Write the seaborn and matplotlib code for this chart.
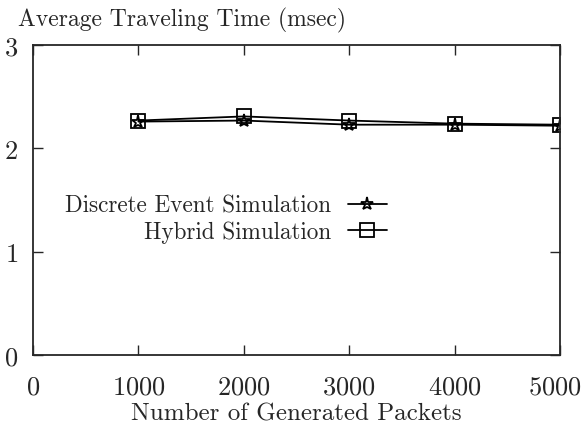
import pandas as pd
import matplotlib.pyplot as plt
import seaborn as sns
from matplotlib.transforms import ScaledTranslation

# Data
packets = [1000, 2000, 3000, 4000, 5000]
discrete_time = [2.26, 2.27, 2.23, 2.23, 2.22]
hybrid_time = [2.27, 2.31, 2.27, 2.24, 2.23]
x_ticks = [0, 1000, 2000, 3000, 4000, 5000]
y_ticks = [0, 1, 2, 3]

df = pd.DataFrame({
    'packets': packets * 2,
    'time': discrete_time + hybrid_time,
    'method': ['Discrete Event Simulation'] * 5 + ['Hybrid Simulation'] * 5,
})

sns.set_style("ticks")
plt.rcParams['font.family'] = ['cmr10', 'DejaVu Serif']
plt.rcParams['axes.formatter.use_mathtext'] = True

fig = plt.figure(figsize=(5.83, 4.27), dpi=100)
ax = fig.add_axes([0.0566, 0.166, 0.904, 0.726])

sns.lineplot(data=df, x='packets', y='time', style='method', markers=['*', 's'],
             dashes=False, color='black', linewidth=1.3, markersize=9.5,
             markerfacecolor='none', markeredgecolor='black', markeredgewidth=1.3,
             ax=ax)

ax.set_xlim(0, 5000)
ax.set_ylim(0, 3)
ax.set_xticks(x_ticks)
ax.set_yticks(y_ticks)
ax.tick_params(direction='in', length=7, width=1, top=True, right=True, labelsize=19)
ax.tick_params(axis='x', pad=14)
ax.tick_params(axis='y', pad=11)
for s in ax.spines.values():
    s.set_linewidth(1.3)

# keep the last x label inside the figure, as in the original
last = ax.get_xticklabels()[-1]
last.set_transform(last.get_transform() + ScaledTranslation(-4 / 72, 0, fig.dpi_scale_trans))

ax.set_xlabel('Number of Generated Packets', fontsize=18, labelpad=3)
ax.set_ylabel('')
fig.text(0.031, 0.953, 'Average Traveling Time (msec)', fontsize=17, ha='left', va='center')

leg = ax.legend(loc='upper right', bbox_to_anchor=(0.693, 0.555), frameon=False,
                markerfirst=False, fontsize=16.7, handlelength=1.65, handletextpad=0.75,
                borderpad=0, labelspacing=0.17)

plt.savefig('out.png', dpi=100)
